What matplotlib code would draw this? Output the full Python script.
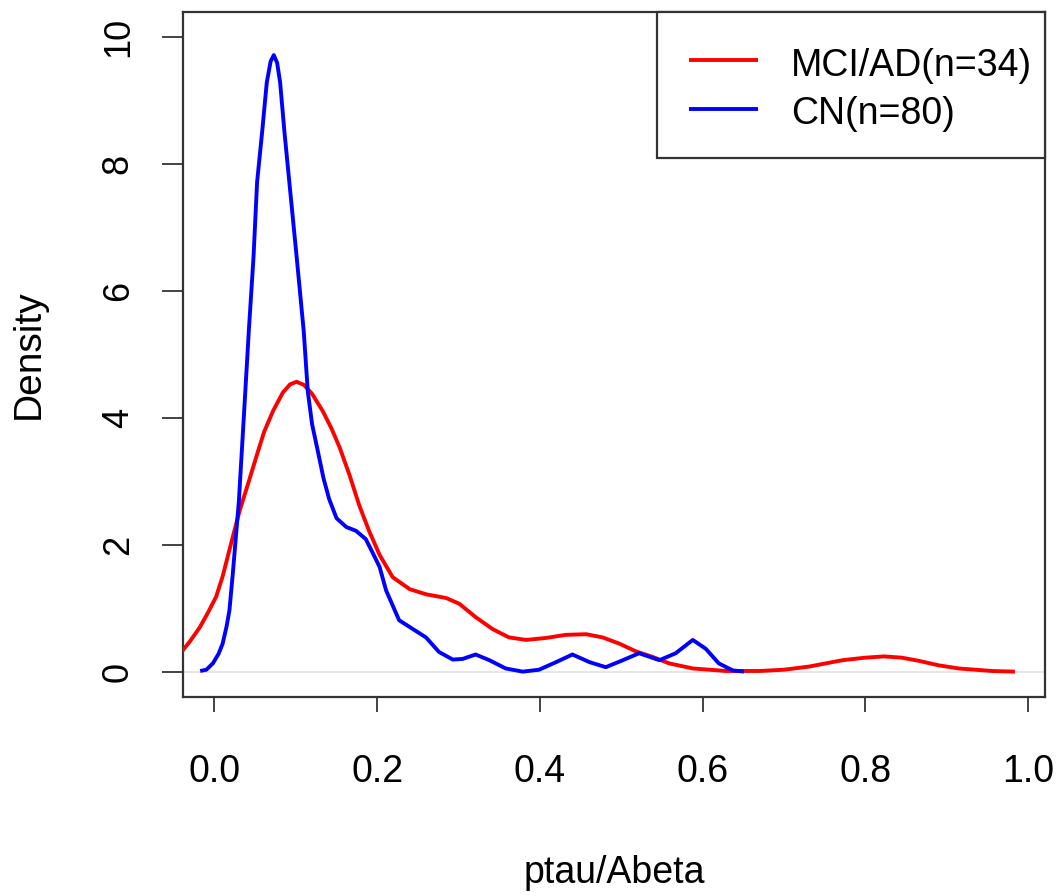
import matplotlib
matplotlib.use("Agg")
import matplotlib.pyplot as plt
from matplotlib.patches import Rectangle

plt.rcParams['font.family'] = ['Liberation Sans', 'DejaVu Sans']

# ---- data ----
red_x = [-0.040, -0.030, -0.018, -0.008, 0.002, 0.010, 0.022, 0.031, 0.041, 0.051,
         0.061, 0.072, 0.084, 0.093, 0.101, 0.110, 0.120, 0.133, 0.144, 0.154,
         0.166, 0.178, 0.190, 0.203, 0.219, 0.240, 0.260, 0.285, 0.301, 0.321,
         0.342, 0.362, 0.383, 0.407, 0.432, 0.457, 0.477, 0.498, 0.518, 0.539,
         0.559, 0.588, 0.629, 0.670, 0.700, 0.731, 0.772, 0.800, 0.823, 0.845,
         0.866, 0.890, 0.915, 0.956, 0.984]
red_y = [0.32, 0.48, 0.70, 0.93, 1.18, 1.50, 2.10, 2.54, 2.95, 3.37,
         3.78, 4.11, 4.40, 4.53, 4.57, 4.52, 4.38, 4.11, 3.83, 3.53,
         3.10, 2.62, 2.22, 1.84, 1.49, 1.30, 1.22, 1.16, 1.07, 0.86,
         0.67, 0.54, 0.50, 0.53, 0.58, 0.59, 0.54, 0.44, 0.32, 0.23,
         0.13, 0.05, 0.01, 0.01, 0.03, 0.08, 0.18, 0.22, 0.24, 0.22,
         0.17, 0.10, 0.05, 0.01, 0.00]

blue_x = [-0.0176, -0.010, -0.002, 0.005, 0.010, 0.015, 0.0184, 0.0225, 0.0266, 0.030,
          0.036, 0.0422, 0.048, 0.0524, 0.0586, 0.0643, 0.0690, 0.0729, 0.0770, 0.0807,
          0.086, 0.092, 0.101, 0.1097, 0.1147, 0.120, 0.127, 0.134, 0.141, 0.150,
          0.162, 0.174, 0.186, 0.195, 0.203, 0.211, 0.227, 0.244, 0.260,
          0.276, 0.293, 0.305, 0.321, 0.338, 0.358, 0.379, 0.399, 0.420, 0.440,
          0.461, 0.481, 0.502, 0.522, 0.547, 0.567, 0.588, 0.604, 0.620, 0.637, 0.651]
blue_y = [0.01, 0.03, 0.13, 0.28, 0.44, 0.72, 0.97, 1.54, 2.17, 2.69,
          4.00, 5.37, 6.54, 7.72, 8.51, 9.29, 9.62, 9.72, 9.60, 9.29,
          8.51, 7.72, 6.54, 5.37, 4.42, 3.90, 3.48, 3.05, 2.72, 2.42,
          2.28, 2.22, 2.09, 1.86, 1.65, 1.28, 0.81, 0.67, 0.54,
          0.31, 0.19, 0.20, 0.27, 0.18, 0.05, 0.00, 0.03, 0.15, 0.27,
          0.15, 0.07, 0.18, 0.29, 0.18, 0.29, 0.50, 0.36, 0.13, 0.02, 0.00]

labels = ["MCI/AD(n=34)", "CN(n=80)"]
colors = ['#ff0000', '#0000ff']
x_ticks = [0.0, 0.2, 0.4, 0.6, 0.8, 1.0]
x_ticklabels = ["0.0", "0.2", "0.4", "0.6", "0.8", "1.0"]
y_ticks = [0, 2, 4, 6, 8, 10]
y_ticklabels = ["0", "2", "4", "6", "8", "10"]

# ---- figure ----
W, H = 1059, 896
fig = plt.figure(figsize=(W / 100, H / 100), dpi=100)
ax = fig.add_axes([183 / W, 1 - 697 / H, (1045 - 183) / W, (697 - 12) / H])

ax.axhline(0, color='#e2e2e2', lw=1.2, zorder=1)
ax.plot(red_x, red_y, color=colors[0], lw=2.8, zorder=3,
        solid_joinstyle='round', solid_capstyle='butt')
ax.plot(blue_x, blue_y, color=colors[1], lw=2.8, zorder=3,
        solid_joinstyle='round', solid_capstyle='butt')

ax.set_xlim(-0.0387, 1.021)
ax.set_ylim(-0.4, 10.4)

ax.set_xticks(x_ticks)
ax.set_xticklabels(x_ticklabels)
ax.set_yticks(y_ticks)
ax.set_yticklabels(y_ticklabels, rotation=90, va='center')

ax.tick_params(axis='x', length=11, width=1.2, pad=30, labelsize=27, color='#222222')
ax.tick_params(axis='y', length=15, width=1.2, pad=19, labelsize=26, color='#222222')

for s in ax.spines.values():
    s.set_linewidth(1.6)
    s.set_color('#333333')

ax.set_xlabel("ptau/Abeta", fontsize=27, labelpad=47)
ax.set_ylabel("Density", fontsize=28, labelpad=39)

# ---- legend (R-style box in the top-right corner) ----
def fx(px):
    return (px - 183) / (1045 - 183)

def fy(py):
    return (697 - py) / (697 - 12)

ax.add_patch(Rectangle((fx(657), fy(158)), fx(1045) - fx(657), fy(12) - fy(158),
                       transform=ax.transAxes, facecolor='white', edgecolor='#333333',
                       lw=1.6, zorder=5, clip_on=False))
line_py = [60.5, 109.0]
base_py = [75.6, 124.5]
for lab, col, lp, bp in zip(labels, colors, line_py, base_py):
    ax.plot([fx(689), fx(758)], [fy(lp), fy(lp)], transform=ax.transAxes,
            color=col, lw=2.8, zorder=6, clip_on=False, solid_capstyle='butt')
    ax.text(fx(791), fy(bp), lab, transform=ax.transAxes, fontsize=27,
            ha='left', va='baseline', zorder=6)

fig.savefig("out.png", dpi=100)
